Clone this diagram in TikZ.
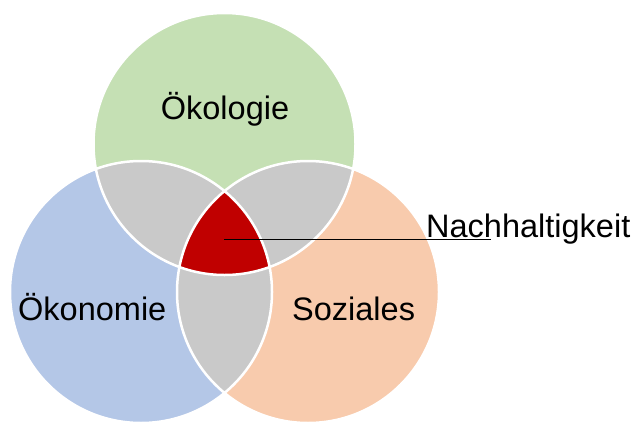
\documentclass[tikz,border=0pt]{standalone}
\usepackage{fontspec}
\setmainfont{Liberation Sans}
\usepackage{tikz}

\definecolor{oekogreen}{HTML}{C5E0B4}
\definecolor{wirtblue}{HTML}{B4C7E7}
\definecolor{soziorange}{HTML}{F8CBAD}
\definecolor{lensgray}{HTML}{C9C9C9}
\definecolor{kernred}{HTML}{C00000}

\begin{document}
\begin{tikzpicture}[x=1pt, y=-1pt,
	rim/.style={draw=white, line width=2.5pt},
	main label/.style={anchor=base, inner sep=0pt, font=\fontsize{32.5}{39}\selectfont}]
	
	\useasboundingbox (0,0) rectangle (634,423);
	
	\coordinate (oeko) at (224.5,144);
	\coordinate (wirt) at (141,292);
	\coordinate (sozi) at (308,292);
	
	% the three sets
	\fill[oekogreen] (oeko) circle[radius=131pt];
	\fill[wirtblue] (wirt) circle[radius=131pt];
	\fill[soziorange] (sozi) circle[radius=131pt];
	
	% pairwise overlaps
	\begin{scope}
		\clip (oeko) circle[radius=131pt];
		\fill[lensgray] (wirt) circle[radius=131pt];
		\fill[lensgray] (sozi) circle[radius=131pt];
	\end{scope}
	\begin{scope}
		\clip (wirt) circle[radius=131pt];
		\fill[lensgray] (sozi) circle[radius=131pt];
	\end{scope}
	
	% common core
	\begin{scope}
		\clip (oeko) circle[radius=131pt];
		\clip (wirt) circle[radius=131pt];
		\fill[kernred] (sozi) circle[radius=131pt];
	\end{scope}
	
	\path[rim] (oeko) circle[radius=131pt]
	(wirt) circle[radius=131pt]
	(sozi) circle[radius=131pt];
	
	\node[main label] (l1) at (225,119) {Ökologie};
	\node[main label, anchor=base west] (l2) at (18,320) {Ökonomie};
	\node[main label, anchor=base west] (l3) at (292,320) {Soziales};
	\node[main label, anchor=base west] (l4) at (426,237) {Nachhaltigkeit};
	
	\coordinate (kern) at (224,239);
	\coordinate (unter) at (491,239);
	\draw[line width=0.9pt] (kern) -- (unter);
\end{tikzpicture}
\end{document}
